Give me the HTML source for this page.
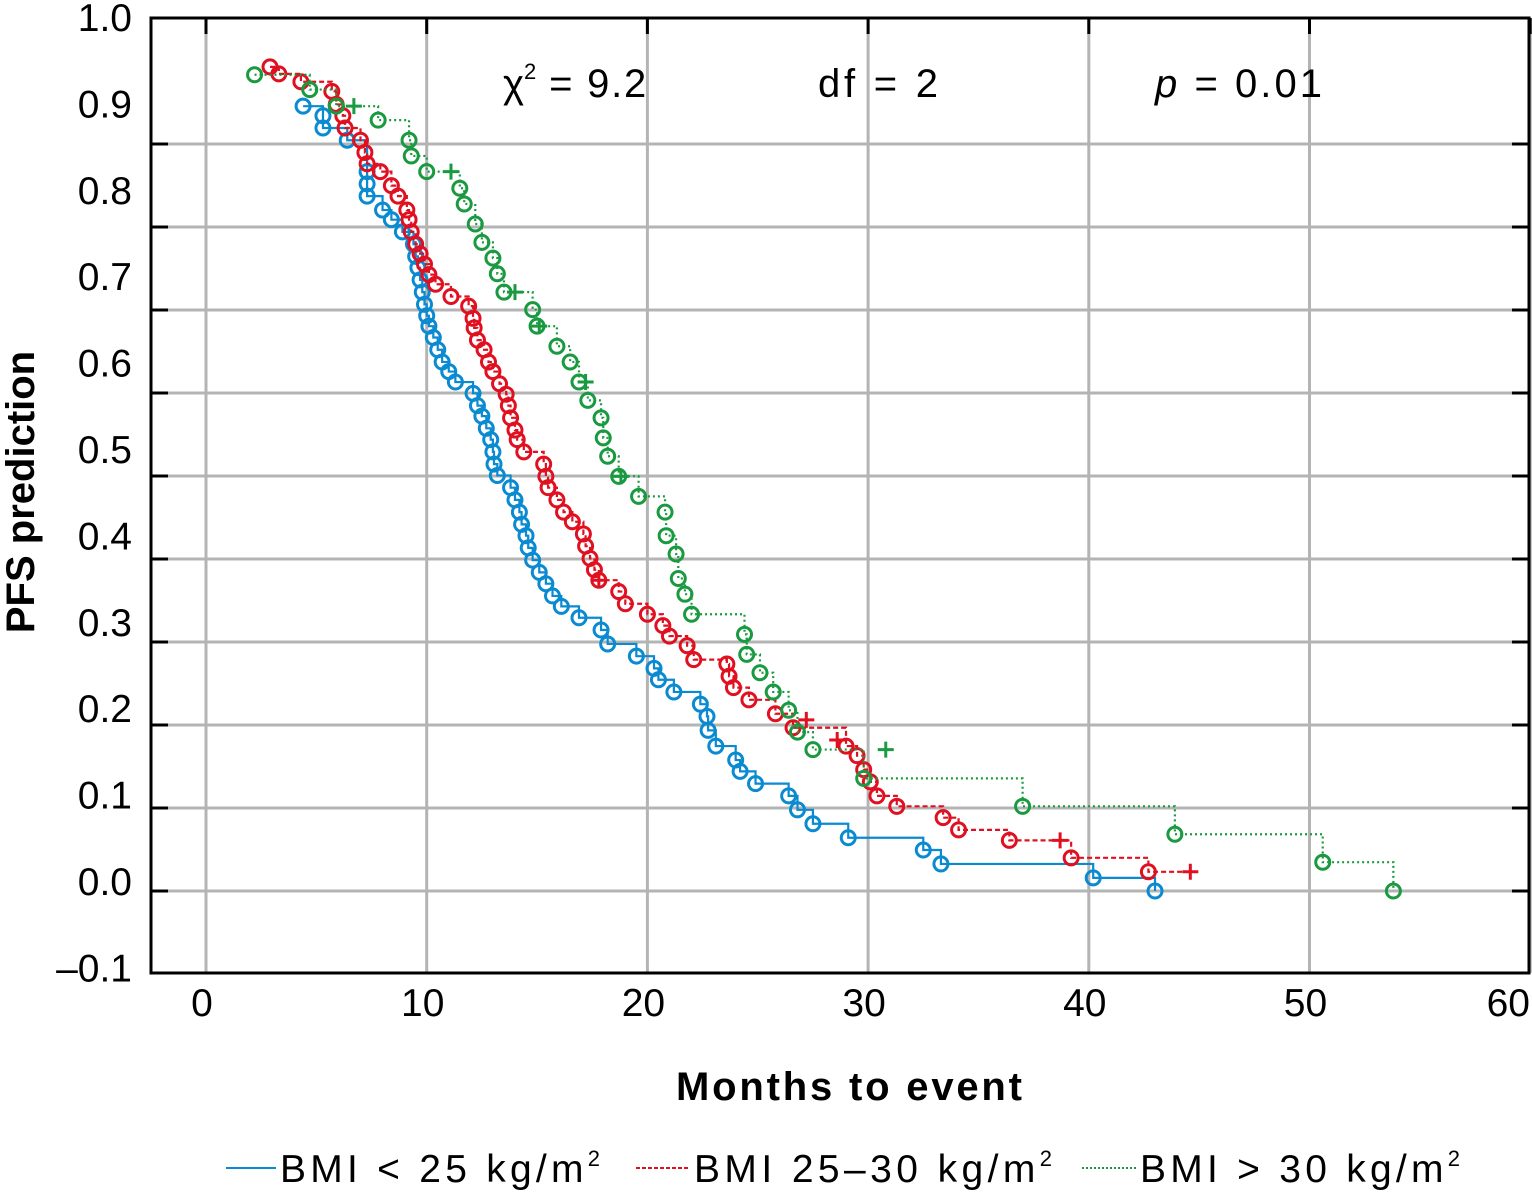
<!DOCTYPE html>
<html><head><meta charset="utf-8"><style>
html,body{margin:0;padding:0;background:#fff}
svg{display:block;font-family:"Liberation Sans","DejaVu Sans",sans-serif}
</style></head><body>
<svg id="chart" width="1532" height="1196" viewBox="0 0 1532 1196">
<g id="grid"></g>
<g id="series"></g>
<rect x="151" y="18" width="1378" height="955" fill="none" stroke="#000" stroke-width="3"/>
<g id="ticks"></g>
<g font-size="40" fill="#000">
<text x="503" y="97">χ<tspan font-size="22" dy="-18">2</tspan><tspan dy="18" textLength="110" lengthAdjust="spacing"> = 9.2</tspan></text>
<text x="818" y="97" textLength="120" lengthAdjust="spacing">df = 2</text>
<text x="1155" y="97" textLength="167" lengthAdjust="spacing"><tspan font-style="italic">p</tspan> = 0.01</text>
</g>
<text x="676" y="1100" textLength="346" lengthAdjust="spacing" font-size="40" font-weight="bold">Months to event</text>
<text transform="translate(34,492) rotate(-90)" text-anchor="middle" font-size="40" font-weight="bold">PFS prediction</text>
<g font-size="39">
<g><line x1="226" y1="1168" x2="276" y2="1168" stroke="#0a8ad0" stroke-width="2"/><text x="280" y="1182" textLength="320" lengthAdjust="spacing">BMI &lt; 25 kg/m<tspan font-size="22" dy="-16">2</tspan></text></g>
<g><line x1="636" y1="1168" x2="690" y2="1168" stroke="#e01020" stroke-width="2" stroke-dasharray="4,2"/><text x="694" y="1182" textLength="358" lengthAdjust="spacing">BMI 25–30 kg/m<tspan font-size="22" dy="-16">2</tspan></text></g>
<g><line x1="1082" y1="1168" x2="1138" y2="1168" stroke="#1a9a40" stroke-width="2" stroke-dasharray="2,2"/><text x="1140" y="1182" textLength="320" lengthAdjust="spacing">BMI &gt; 30 kg/m<tspan font-size="22" dy="-16">2</tspan></text></g>
</g>
</svg>
<script>
const xTicks=[0,10,20,30,40,50,60];
const yTicks=[1.0,0.9,0.8,0.7,0.6,0.5,0.4,0.3,0.2,0.1,0.0,-0.1];
const yTickLabels=["1.0","0.9","0.8","0.7","0.6","0.5","0.4","0.3","0.2","0.1","0.0","–0.1"];
const blueMonths=[4.4,5.3,5.3,6.4,7.3,7.3,7.3,8.0,8.4,8.9,9.4,9.5,9.6,9.7,9.8,9.9,10.0,10.1,10.3,10.5,10.7,11.0,11.3,12.1,12.3,12.5,12.7,12.9,13.0,13.05,13.2,13.8,14.0,14.2,14.3,14.5,14.6,14.8,15.1,15.4,15.7,16.1,16.9,17.9,18.2,19.5,20.3,20.5,21.2,22.4,22.7,22.75,23.1,24.0,24.2,24.9,26.4,26.8,27.5,29.1,32.5,33.3,40.2,43.0];
const blueSurv=[0.899,0.888,0.874,0.860,0.824,0.810,0.796,0.780,0.769,0.755,0.741,0.727,0.714,0.700,0.686,0.672,0.659,0.647,0.634,0.620,0.606,0.595,0.583,0.570,0.556,0.544,0.530,0.517,0.503,0.489,0.476,0.462,0.448,0.434,0.420,0.407,0.393,0.379,0.365,0.352,0.338,0.326,0.313,0.299,0.283,0.269,0.255,0.242,0.228,0.214,0.200,0.184,0.166,0.150,0.137,0.123,0.109,0.093,0.077,0.061,0.047,0.031,0.015,0.000];
const blueCensMonths=[];const blueCensSurv=[];
const redMonths=[2.9,3.3,4.3,5.7,5.9,6.2,6.3,7.0,7.2,7.3,7.9,8.4,8.7,9.1,9.2,9.3,9.5,9.7,9.9,10.1,10.4,11.1,11.9,12.1,12.15,12.3,12.6,12.8,13.0,13.3,13.6,13.7,13.8,14.0,14.1,14.4,15.3,15.4,15.5,15.9,16.2,16.6,17.1,17.2,17.4,17.6,17.8,18.7,19.0,20.0,20.7,21.0,21.8,22.1,23.6,23.7,23.9,24.6,25.8,26.6,29.0,29.5,29.8,30.1,30.4,31.3,33.4,34.1,36.4,39.2,42.7];
const redSurv=[0.944,0.936,0.927,0.916,0.901,0.888,0.874,0.860,0.846,0.833,0.824,0.808,0.796,0.780,0.769,0.755,0.741,0.730,0.718,0.706,0.695,0.681,0.670,0.656,0.645,0.631,0.620,0.606,0.595,0.581,0.569,0.556,0.542,0.528,0.517,0.503,0.489,0.475,0.462,0.448,0.434,0.423,0.409,0.395,0.381,0.368,0.356,0.343,0.329,0.317,0.304,0.292,0.281,0.265,0.260,0.246,0.233,0.219,0.203,0.187,0.166,0.155,0.139,0.125,0.109,0.097,0.084,0.070,0.058,0.038,0.022];
const redCensMonths=[17.8,27.2,28.6,38.7,44.6];const redCensSurv=[0.356,0.196,0.173,0.058,0.022];
const greenMonths=[2.2,4.7,5.9,7.8,9.2,9.3,10.0,11.5,11.7,12.2,12.5,13.0,13.2,13.5,14.8,15.0,15.9,16.5,16.9,17.3,17.9,18.0,18.2,18.7,19.6,20.8,20.85,21.3,21.4,21.7,22.0,24.4,24.5,25.1,25.7,26.4,26.8,27.5,29.8,37.0,43.9,50.6,53.8];
const greenSurv=[0.935,0.918,0.899,0.883,0.860,0.842,0.824,0.805,0.787,0.764,0.743,0.725,0.707,0.686,0.666,0.647,0.624,0.606,0.583,0.562,0.542,0.519,0.498,0.475,0.452,0.434,0.407,0.386,0.358,0.340,0.317,0.294,0.271,0.250,0.228,0.207,0.182,0.162,0.129,0.097,0.065,0.033,0.000];
const greenCensMonths=[6.7,11.1,14.0,15.1,17.2,18.8,30.8];const greenCensSurv=[0.899,0.824,0.686,0.647,0.583,0.475,0.162];

const NS='http://www.w3.org/2000/svg';
function xS(m){return 206+22.07*m;}
function yS(v){return 891-873*v;}
function gridY(v){return 891-830*v;}
function labY(v){return 882-864*v;}
function mk(tag,attrs,parent){const e=document.createElementNS(NS,tag);for(const k in attrs)e.setAttribute(k,attrs[k]);parent.appendChild(e);return e;}
const grid=document.getElementById('grid'),ticks=document.getElementById('ticks'),ser=document.getElementById('series'),svg=document.getElementById('chart');
xTicks.forEach((t,i)=>{
  const l=mk('line',{x1:xS(t),x2:xS(t),y1:18,y2:973,stroke:'#b4b4b4','stroke-width':3},grid);
  
  
  const tk=mk('line',{x1:xS(t),x2:xS(t),y1:18,y2:34,stroke:'#000','stroke-width':3},ticks);
  
  
  const last=i===xTicks.length-1;
  const tx=mk('text',{x:last?1530:xS(t)-4,y:1016,'text-anchor':last?'end':'middle','font-size':39},svg);
  tx.textContent=String(t);
  
  
});
yTicks.forEach((t,i)=>{
  if(t<1.0&&t>-0.1){
    const l=mk('line',{x1:151,x2:1529,y1:gridY(t),y2:gridY(t),stroke:'#b4b4b4','stroke-width':3},grid);
    
    
    const tk=mk('line',{x1:151,x2:168,y1:gridY(t),y2:gridY(t),stroke:'#000','stroke-width':3},ticks);
    
    
    const tk2=mk('line',{x1:1512,x2:1529,y1:gridY(t),y2:gridY(t),stroke:'#000','stroke-width':3},ticks);
    
    
  }
  const tx=mk('text',{x:132,y:labY(t)+13,'text-anchor':'end','font-size':39},svg);
  tx.textContent=yTickLabels[i];
  
  
});
function drawSeries(name,ms,vs,cm,cv,color,dash){
  const g=mk('g',{},ser);
  
  
  let d='M'+xS(ms[0])+','+yS(vs[0]);
  for(let i=1;i<ms.length;i++){d+=' H'+xS(ms[i])+' V'+yS(vs[i]);}
  const lastCm=cm.length?Math.max(...cm):0;
  if(lastCm>ms[ms.length-1]) d+=' H'+xS(lastCm);
  const p=mk('path',{d:d,fill:'none',stroke:color,'stroke-width':2.2,'stroke-dasharray':dash},g);
  
  
  for(let i=0;i<ms.length;i++){
    const c=mk('circle',{cx:xS(ms[i]),cy:yS(vs[i]),r:7,fill:'none',stroke:color,'stroke-width':3},g);
    
    
  }
  for(let i=0;i<cm.length;i++){
    const x=xS(cm[i]),y=yS(cv[i]);
    const c=mk('path',{d:'M'+(x-8)+','+y+' H'+(x+8)+' M'+x+','+(y-8)+' V'+(y+8),stroke:color,'stroke-width':3},g);
    
    
  }
}
drawSeries('series-bmi-under-25',blueMonths,blueSurv,blueCensMonths,blueCensSurv,'#0a8ad0','none');
drawSeries('series-bmi-25-30',redMonths,redSurv,redCensMonths,redCensSurv,'#e01020','5,3');
drawSeries('series-bmi-over-30',greenMonths,greenSurv,greenCensMonths,greenCensSurv,'#1a9a40','2,3');
</script>
</body></html>
